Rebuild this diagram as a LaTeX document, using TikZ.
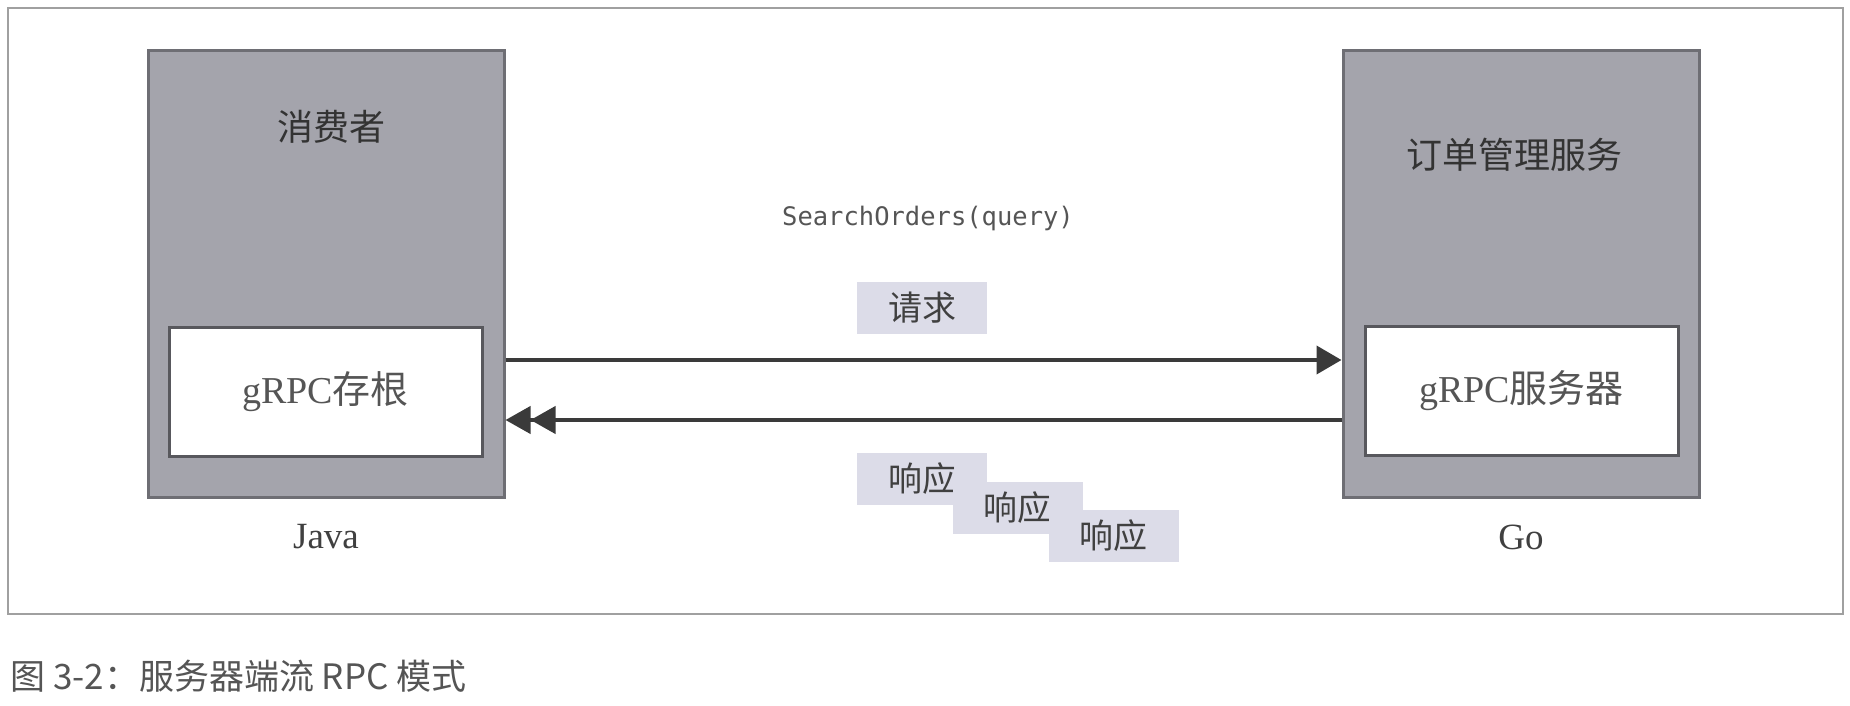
\documentclass[tikz,border=0pt]{standalone}
\usepackage{fontspec}
\setmainfont{Liberation Serif}
\setmonofont{DejaVu Sans Mono}
\newfontfamily\cjk{Noto Sans CJK SC}
\usetikzlibrary{arrows.meta,positioning}

\definecolor{boxgray}{HTML}{A4A4AC}
\definecolor{edgegray}{HTML}{6E6E74}
\definecolor{tagfill}{HTML}{DCDCE8}
\definecolor{framegray}{HTML}{A0A0A0}
\definecolor{textgray}{HTML}{555555}
\definecolor{linegray}{HTML}{3A3A3A}

\tikzset{
  hostbox/.style={draw=edgegray,fill=boxgray,line width=3pt,
    minimum width=356pt,minimum height=446pt,inner sep=0pt},
  stubbox/.style={draw=edgegray!80!black,fill=white,line width=3pt,
    minimum width=313pt,minimum height=129pt,inner sep=0pt,
    font=\fontsize{38}{42}\selectfont,text=textgray},
  title/.style={font=\cjk\fontsize{36}{40}\selectfont,text=black!80},
  lang/.style={font=\fontsize{37}{40}\selectfont,text=black!75},
  msgtag/.style={fill=tagfill,minimum width=130pt,minimum height=52pt,
    inner sep=0pt,font=\cjk\fontsize{34}{38}\selectfont,text=black!75},
  call/.style={line width=4pt,draw=linegray}
}

\begin{document}
\begin{tikzpicture}[x=1pt,y=-1pt]
        \useasboundingbox (0,0) rectangle (1850,706);

        % draw the frame
        \draw[framegray,line width=2pt] (8,8) rectangle (1843,614);

        % draw the client and the server
        \node[hostbox] (consumer) at (326,274) {};
        \node[hostbox] (service) at (1521,274) {};
        \node[title] (consumertitle) at (331,127) {消费者};
        \node[title] (servicetitle) at (1514,155) {订单管理服务};
        \node[stubbox] (stub) at (325.5,391.5) {gRPC{\cjk 存根}};
        \node[stubbox] (server) at (1521.5,391) {gRPC{\cjk 服务器}};
        \node[lang] (java) at (326,537) {Java};
        \node[lang] (go) at (1521,537) {Go};

        % the method that is called
        \node[font=\ttfamily\fontsize{25.5}{28}\selectfont,text=textgray]
              (method) at (928,218) {SearchOrders(query)};

        % one request, a stream of responses
        \draw[call,-{Triangle[length=25pt,width=28pt]}]
              ([yshift=-86pt]consumer.east) -- ([yshift=-86pt]service.west);
        \draw[call,{Triangle[length=25pt,width=27pt,sep=0pt]Triangle[length=25pt,width=27pt,sep=0pt]}-]
              ([yshift=-146pt]consumer.east) -- ([yshift=-146pt]service.west);

        \node[msgtag] (request) at (922,307.5) {请求};
        \foreach \i/\x/\y in {1/922/479, 2/1017.5/507.5, 3/1113.5/535.5}
                \node[msgtag] (response\i) at (\x,\y) {响应};

        % the caption
        \node[anchor=west,inner sep=0pt,font=\cjk\fontsize{35}{40}\selectfont,text=textgray]
              (caption) at (10,676) {图 3-2：服务器端流 RPC 模式};
\end{tikzpicture}
\end{document}
